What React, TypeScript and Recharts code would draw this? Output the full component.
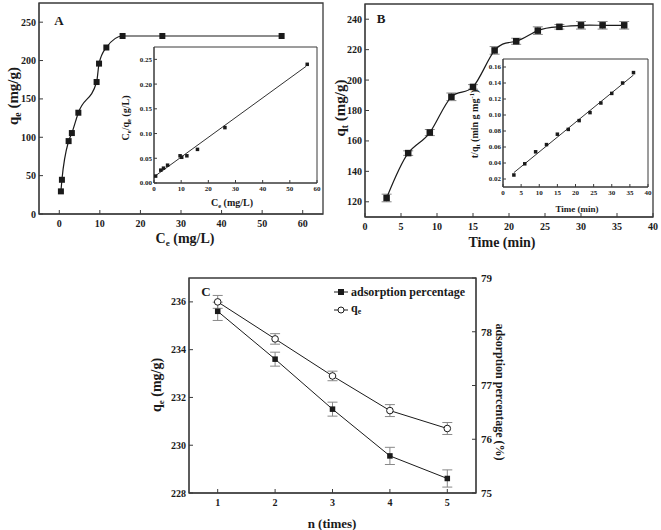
import React from 'react'
import { ComposedChart, Line, XAxis, YAxis, ReferenceArea, ErrorBar } from 'recharts'

const FONT = '"Liberation Serif", "Times New Roman", serif'
const INK = '#1a1a1a'
const FRAME = '#3a3a3a'

// A - isotherm
const isoCe = [0.4, 0.65, 2.3, 3.1, 4.7, 9.2, 9.8, 11.6, 15.6, 25.4, 54.8]
const isoQe = [29.5, 44.6, 95, 105.5, 132, 172, 196, 217, 232, 232, 232]
const isoXTicks = [0, 10, 20, 30, 40, 50, 60]
const isoYTicks = [0, 50, 100, 150, 200, 250]

// A inset - Langmuir linear form
const langCe = [0.6, 2.5, 3.5, 5, 9.6, 10.2, 12.1, 16, 26.1, 56.4]
const langRatio = [0.014, 0.026, 0.03, 0.036, 0.055, 0.052, 0.055, 0.068, 0.112, 0.24]
const langFitCe = [0, 56]
const langFitRatio = [0.0125, 0.236]
const langXTicks = [0, 10, 20, 30, 40, 50, 60]
const langYTicks = [0, 0.05, 0.1, 0.15, 0.2, 0.25]

// B - kinetics
const kinT = [3, 6, 9, 12, 15, 18, 21, 24, 27, 30, 33, 36]
const kinQt = [122.5, 152, 165.5, 189, 195.5, 219.5, 225.5, 232.5, 235, 236, 236, 236]
const kinErr = [2.5, 1.5, 2, 2.5, 1.5, 2.5, 2, 2.5, 1.5, 2.5, 2.5, 2.5]
const kinXTicks = [0, 5, 10, 15, 20, 25, 30, 35, 40]
const kinYTicks = [120, 140, 160, 180, 200, 220, 240]

// B inset - pseudo-second-order
const psoRatio = [0.025, 0.039, 0.054, 0.063, 0.076, 0.082, 0.093, 0.103, 0.115, 0.127, 0.14, 0.153]
const psoFitT = [3, 36]
const psoFitRatio = [0.028, 0.15]
const psoYTicks = [0.02, 0.04, 0.06, 0.08, 0.1, 0.12, 0.14, 0.16]

// C - reuse cycles
const cycles = [1, 2, 3, 4, 5]
const cycleQe = [236.0, 234.45, 232.9, 231.45, 230.7]
const cycleQeErr = [0.27, 0.22, 0.2, 0.25, 0.25]
const cyclePct = [78.38, 77.49, 76.56, 75.69, 75.27]
const cyclePctErr = [0.17, 0.13, 0.13, 0.16, 0.16]
const cycleQeTicks = [228, 230, 232, 234, 236]
const cyclePctTicks = [75, 76, 77, 78, 79]

const isoData = isoCe.map((x, i) => ({ x, y: isoQe[i] }))
const langData = langCe.map((x, i) => ({ x, y: langRatio[i] }))
const langFit = langFitCe.map((x, i) => ({ x, y: langFitRatio[i] }))
const kinData = kinT.map((x, i) => ({ x, y: kinQt[i], err: kinErr[i] }))
const psoData = kinT.map((x, i) => ({ x, y: psoRatio[i] }))
const psoFit = psoFitT.map((x, i) => ({ x, y: psoFitRatio[i] }))
const cycleData = cycles.map((n, i) => ({
    n,
    qe: cycleQe[i],
    qeErr: cycleQeErr[i],
    pct: cyclePct[i],
    pctErr: cyclePctErr[i],
}))

const tick = (size: number) => ({ fill: INK, fontSize: size, fontWeight: 'bold', fontFamily: FONT })

const squareDot = (size: number) => (props: any) => {
    const { cx, cy, index } = props
    if (cx == null || cy == null) return <g key={index} />
    return <rect key={index} x={cx - size / 2} y={cy - size / 2} width={size} height={size} fill={INK} />
}

const circleDot = (r: number) => (props: any) => {
    const { cx, cy, index } = props
    if (cx == null || cy == null) return <g key={index} />
    return <circle key={index} cx={cx} cy={cy} r={r} fill="#fff" stroke={INK} strokeWidth={1} />
}

function Title({ x, y, size, rotate = 0, children }: any) {
    return (
        <div
            style={{
                position: 'absolute',
                left: x,
                top: y,
                transform: `translate(-50%, -50%) rotate(${rotate}deg)`,
                whiteSpace: 'nowrap',
                fontFamily: FONT,
                fontWeight: 'bold',
                fontSize: size,
                color: INK,
                lineHeight: 1,
            }}
        >
            {children}
        </div>
    )
}

const Sub = ({ children }: any) => (
    <span style={{ fontSize: '0.65em', verticalAlign: '-0.3em' }}>{children}</span>
)

function Box({ left, top, children }: any) {
    return <div style={{ position: 'absolute', left, top }}>{children}</div>
}

function CycleLegend() {
    return (
        <div style={{ fontFamily: FONT, fontWeight: 'bold', fontSize: 12, color: INK, lineHeight: '16px' }}>
            <div style={{ display: 'flex', alignItems: 'center' }}>
                <svg width={14} height={10} style={{ marginRight: 3 }}>
                    <line x1={0} y1={5} x2={14} y2={5} stroke={INK} />
                    <rect x={4} y={2} width={6} height={6} fill={INK} />
                </svg>
                <span>adsorption percentage</span>
            </div>
            <div style={{ display: 'flex', alignItems: 'center' }}>
                <svg width={14} height={10} style={{ marginRight: 3 }}>
                    <line x1={0} y1={5} x2={14} y2={5} stroke={INK} />
                    <circle cx={7} cy={5} r={3} fill="#fff" stroke={INK} />
                </svg>
                <span>q<Sub>e</Sub></span>
            </div>
        </div>
    )
}

export default function App() {
    return (
        <div style={{ position: 'absolute', left: 0, top: 0, width: 661, height: 530, background: '#fff', overflow: 'hidden' }}>
            {/* A */}
            <Box left={0} top={0}>
                <ComposedChart width={330} height={250} margin={{ top: 3, right: 7, left: 0, bottom: 6 }}>
                    <XAxis dataKey="x" type="number" domain={[-5, 65]} ticks={isoXTicks} height={30} tickSize={-4} tickMargin={10}
                        tick={tick(10)} axisLine={{ stroke: FRAME }} tickLine={{ stroke: FRAME }} allowDataOverflow />
                    <YAxis type="number" domain={[0, 275]} ticks={isoYTicks} width={39} tickSize={-4} tickMargin={7}
                        tick={tick(10)} axisLine={{ stroke: FRAME }} tickLine={{ stroke: FRAME }} allowDataOverflow />
                    <ReferenceArea x1={-5} x2={65} y1={0} y2={275} fill="none" stroke={FRAME} strokeWidth={1.3} />
                    <Line data={isoData} dataKey="y" type="monotone" stroke={INK} strokeWidth={1.2}
                        dot={squareDot(6)} activeDot={false} isAnimationActive={false} />
                </ComposedChart>
            </Box>
            <Box left={110} top={40}>
                <ComposedChart width={215} height={160} margin={{ top: 7, right: 8, left: 10, bottom: 3 }}>
                    <XAxis dataKey="x" type="number" domain={[0, 60]} ticks={langXTicks} height={14} tickSize={-3} tickMargin={6}
                        tick={tick(7)} axisLine={{ stroke: FRAME }} tickLine={{ stroke: FRAME }} allowDataOverflow />
                    <YAxis type="number" domain={[0, 0.275]} ticks={langYTicks} width={34} tickSize={-3} tickMargin={5}
                        tickFormatter={(v: number) => v.toFixed(2)}
                        tick={tick(7)} axisLine={{ stroke: FRAME }} tickLine={{ stroke: FRAME }} allowDataOverflow />
                    <ReferenceArea x1={0} x2={60} y1={0} y2={0.275} fill="none" stroke={FRAME} strokeWidth={1} />
                    <Line data={langFit} dataKey="y" type="linear" stroke={INK} strokeWidth={0.9} dot={false}
                        activeDot={false} isAnimationActive={false} />
                    <Line data={langData} dataKey="y" stroke="none" dot={squareDot(3.5)} activeDot={false}
                        isAnimationActive={false} />
                </ComposedChart>
            </Box>

            {/* B */}
            <Box left={330} top={0}>
                <ComposedChart width={331} height={250} margin={{ top: 4, right: 8, left: 0, bottom: 3 }}>
                    <XAxis dataKey="x" type="number" domain={[0, 40]} ticks={kinXTicks} height={30} tickSize={-4} tickMargin={10}
                        tick={tick(10)} axisLine={{ stroke: FRAME }} tickLine={{ stroke: FRAME }} allowDataOverflow />
                    <YAxis type="number" domain={[110, 250]} ticks={kinYTicks} width={35} tickSize={-4} tickMargin={7}
                        tick={tick(10)} axisLine={{ stroke: FRAME }} tickLine={{ stroke: FRAME }} allowDataOverflow />
                    <ReferenceArea x1={0} x2={40} y1={110} y2={250} fill="none" stroke={FRAME} strokeWidth={1.3} />
                    <Line data={kinData} dataKey="y" type="natural" stroke={INK} strokeWidth={1.2}
                        dot={squareDot(6.5)} activeDot={false} isAnimationActive={false}>
                        <ErrorBar dataKey="err" width={5} stroke="#888" strokeWidth={1} />
                    </Line>
                </ComposedChart>
            </Box>
            <Box left={470} top={50}>
                <ComposedChart width={190} height={165} margin={{ top: 9, right: 12, left: 0, bottom: 14 }}>
                    <XAxis dataKey="x" type="number" domain={[0, 40]} ticks={kinXTicks} height={14} tickSize={-3} tickMargin={6}
                        tick={tick(7)} axisLine={{ stroke: FRAME }} tickLine={{ stroke: FRAME }} allowDataOverflow />
                    <YAxis type="number" domain={[0.01, 0.17]} ticks={psoYTicks} width={33} tickSize={-3} tickMargin={5}
                        tickFormatter={(v: number) => v.toFixed(2)}
                        tick={tick(7)} axisLine={{ stroke: FRAME }} tickLine={{ stroke: FRAME }} allowDataOverflow />
                    <ReferenceArea x1={0} x2={40} y1={0.01} y2={0.17} fill="none" stroke={FRAME} strokeWidth={1} />
                    <Line data={psoFit} dataKey="y" type="linear" stroke={INK} strokeWidth={0.9} dot={false}
                        activeDot={false} isAnimationActive={false} />
                    <Line data={psoData} dataKey="y" stroke="none" dot={squareDot(3.5)} activeDot={false}
                        isAnimationActive={false} />
                </ComposedChart>
            </Box>

            {/* C */}
            <Box left={140} top={260}>
                <ComposedChart width={380} height={260} data={cycleData} margin={{ top: 18, right: 14, left: 9, bottom: 3 }}>
                    <XAxis dataKey="n" type="number" domain={[0.5, 5.5]} ticks={cycles} height={24} tickSize={-4} tickMargin={10}
                        tick={tick(10)} axisLine={{ stroke: FRAME }} tickLine={{ stroke: FRAME }} allowDataOverflow />
                    <YAxis yAxisId="left" type="number" domain={[228, 237]} ticks={cycleQeTicks} width={40} tickSize={-4}
                        tickMargin={7} tick={tick(10)} axisLine={{ stroke: FRAME }} tickLine={{ stroke: FRAME }} allowDataOverflow />
                    <YAxis yAxisId="right" orientation="right" type="number" domain={[75, 79]} ticks={cyclePctTicks} width={30}
                        tickSize={-4} tickMargin={9} tick={tick(11)} axisLine={{ stroke: FRAME }} tickLine={{ stroke: FRAME }}
                        allowDataOverflow />
                    <ReferenceArea yAxisId="left" x1={0.5} x2={5.5} y1={228} y2={237} fill="none" stroke={FRAME} strokeWidth={1.3} />
                    <Line yAxisId="right" dataKey="pct" type="linear" stroke={INK} strokeWidth={1}
                        dot={squareDot(5.5)} activeDot={false} isAnimationActive={false}>
                        <ErrorBar dataKey="pctErr" width={5} stroke="#888" strokeWidth={1} />
                    </Line>
                    <Line yAxisId="left" dataKey="qe" type="linear" stroke={INK} strokeWidth={1}
                        dot={circleDot(3.3)} activeDot={false} isAnimationActive={false}>
                        <ErrorBar dataKey="qeErr" width={5} stroke="#888" strokeWidth={1} />
                    </Line>
                </ComposedChart>
            </Box>
            <Box left={334} top={284}>
                <CycleLegend />
            </Box>

            {/* panel letters */}
            <Title x={59} y={20} size={13}>A</Title>
            <Title x={381} y={18} size={13}>B</Title>
            <Title x={206} y={291} size={13}>C</Title>

            {/* axis titles */}
            <Title x={14} y={96} size={15} rotate={-90}>q<Sub>e</Sub> (mg/g)</Title>
            <Title x={185} y={240} size={14}>C<Sub>e</Sub> (mg/L)</Title>
            <Title x={127} y={118} size={10} rotate={-90}>C<Sub>e</Sub>/q<Sub>e</Sub> (g/L)</Title>
            <Title x={232} y={204} size={10}>C<Sub>e</Sub> (mg/L)</Title>

            <Title x={341} y={108} size={15} rotate={-90}>q<Sub>t</Sub> (mg/g)</Title>
            <Title x={502} y={243} size={14}>Time (min)</Title>
            <Title x={475} y={124} size={10} rotate={-90}>
                t/q<Sub>t</Sub> (min g mg<sup style={{ fontSize: '0.65em' }}>-1</sup>)
            </Title>
            <Title x={577} y={209} size={9}>Time (min)</Title>

            <Title x={158} y={385} size={14} rotate={-90}>q<Sub>e</Sub> (mg/g)</Title>
            <Title x={500} y={392} size={12} rotate={90}>adsorption percentage (%)</Title>
            <Title x={332} y={523} size={13}>n (times)</Title>
        </div>
    )
}
